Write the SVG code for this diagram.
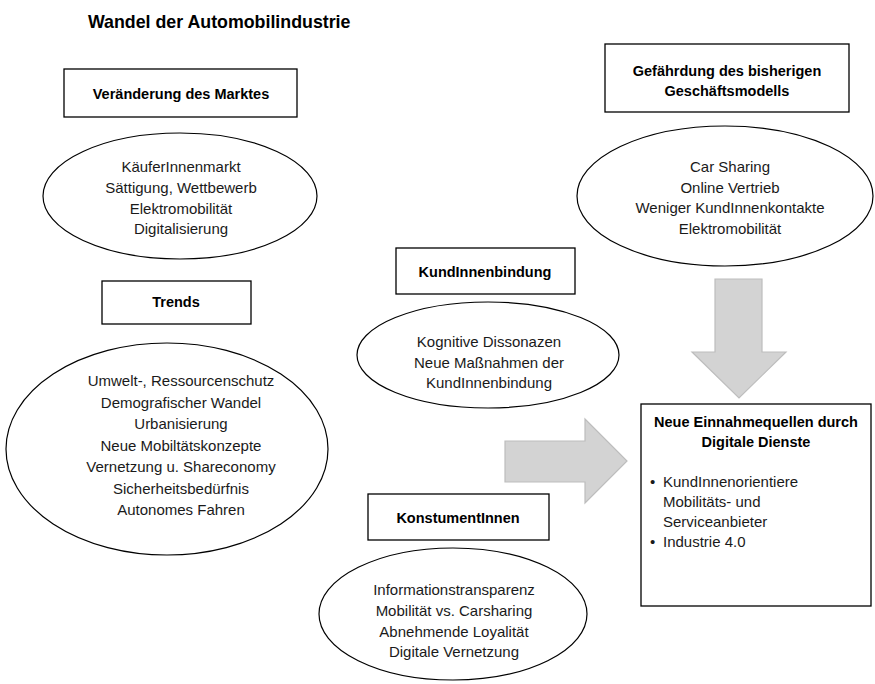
<svg xmlns="http://www.w3.org/2000/svg" width="875" height="684" viewBox="0 0 875 684">
  <style>
    .box { fill: #ffffff; stroke: #000000; stroke-width: 1.3; }
    .oval { fill: #ffffff; stroke: #000000; stroke-width: 1.2; }
    .head { font-family: "Liberation Sans", Arial, sans-serif; font-weight: bold; font-size: 14.5px; fill: #000000; text-anchor: middle; }
    .body { font-family: "Liberation Sans", Arial, sans-serif; font-size: 15px; fill: #1a1a1a; text-anchor: middle; }
    .list { font-family: "Liberation Sans", Arial, sans-serif; font-size: 15px; fill: #1a1a1a; }
    .flow { fill: #d3d3d3; stroke: #bdbdbd; stroke-width: 1.2; }
  </style>
  <rect width="875" height="684" fill="#ffffff"/>

  <text x="88" y="28" font-family="'Liberation Sans', Arial, sans-serif" font-weight="bold" font-size="17.8px" fill="#000">Wandel der Automobilindustrie</text>

  <!-- block arrows -->
  <g id="connectors">
    <polygon class="flow" points="505,441 585,441 585,419 627,461 585,503 585,482 505,482"/>
    <polygon class="flow" points="715,279 762,279 762,352 786,352 739,398 692,352 715,352"/>
  </g>

  <g id="markt-label">
    <rect class="box" x="64" y="69" width="233" height="48"/>
    <text class="head" x="181" y="99">Veränderung des Marktes</text>
  </g>
  <g id="markt-items">
    <ellipse class="oval" cx="180" cy="196" rx="137" ry="63"/>
    <text class="body" x="181" y="172">KäuferInnenmarkt</text>
    <text class="body" x="181" y="193">Sättigung, Wettbewerb</text>
    <text class="body" x="181" y="214">Elektromobilität</text>
    <text class="body" x="181" y="234">Digitalisierung</text>
  </g>

  <g id="trends-label">
    <rect class="box" x="102" y="281" width="149" height="43"/>
    <text class="head" x="176" y="307">Trends</text>
  </g>
  <g id="trends-items">
    <ellipse class="oval" cx="167" cy="449" rx="161" ry="106"/>
    <text class="body" x="181" y="386">Umwelt-, Ressourcenschutz</text>
    <text class="body" x="181" y="408">Demografischer Wandel</text>
    <text class="body" x="181" y="429">Urbanisierung</text>
    <text class="body" x="181" y="451">Neue Mobiltätskonzepte</text>
    <text class="body" x="181" y="472">Vernetzung u. Shareconomy</text>
    <text class="body" x="181" y="494">Sicherheitsbedürfnis</text>
    <text class="body" x="181" y="515">Autonomes Fahren</text>
  </g>

  <g id="geschaeft-label">
    <rect class="box" x="605" y="44" width="244" height="68"/>
    <text class="head" x="727" y="76">Gefährdung des bisherigen</text>
    <text class="head" x="727" y="96">Geschäftsmodells</text>
  </g>
  <g id="geschaeft-items">
    <ellipse class="oval" cx="725" cy="196" rx="148" ry="70"/>
    <text class="body" x="730" y="172">Car Sharing</text>
    <text class="body" x="730" y="193">Online Vertrieb</text>
    <text class="body" x="730" y="213">Weniger KundInnenkontakte</text>
    <text class="body" x="730" y="234">Elektromobilität</text>
  </g>

  <g id="bindung-label">
    <rect class="box" x="396" y="248" width="179" height="46"/>
    <text class="head" x="485" y="277">KundInnenbindung</text>
  </g>
  <g id="bindung-items">
    <ellipse class="oval" cx="488" cy="355" rx="131" ry="53"/>
    <text class="body" x="489" y="347">Kognitive Dissonazen</text>
    <text class="body" x="489" y="368">Neue Maßnahmen der</text>
    <text class="body" x="489" y="388">KundInnenbindung</text>
  </g>

  <g id="konsument-label">
    <rect class="box" x="368" y="494" width="181" height="46"/>
    <text class="head" x="458" y="523">KonstumentInnen</text>
  </g>
  <g id="konsument-items">
    <ellipse class="oval" cx="453" cy="614" rx="134" ry="66"/>
    <text class="body" x="454" y="595">Informationstransparenz</text>
    <text class="body" x="454" y="616">Mobilität vs. Carsharing</text>
    <text class="body" x="454" y="637">Abnehmende Loyalität</text>
    <text class="body" x="454" y="657">Digitale Vernetzung</text>
  </g>

  <g id="einnahmen">
    <rect class="box" x="641" y="404" width="230" height="202"/>
    <text class="head" x="756" y="427" font-size="14px">Neue Einnahmequellen durch</text>
    <text class="head" x="756" y="447" font-size="14px">Digitale Dienste</text>
    <text class="list" x="650" y="487">•</text>
    <text class="list" x="663" y="487">KundInnenorientiere</text>
    <text class="list" x="663" y="507">Mobilitäts- und</text>
    <text class="list" x="663" y="527">Serviceanbieter</text>
    <text class="list" x="650" y="547">•</text>
    <text class="list" x="663" y="547">Industrie 4.0</text>
  </g>
</svg>
